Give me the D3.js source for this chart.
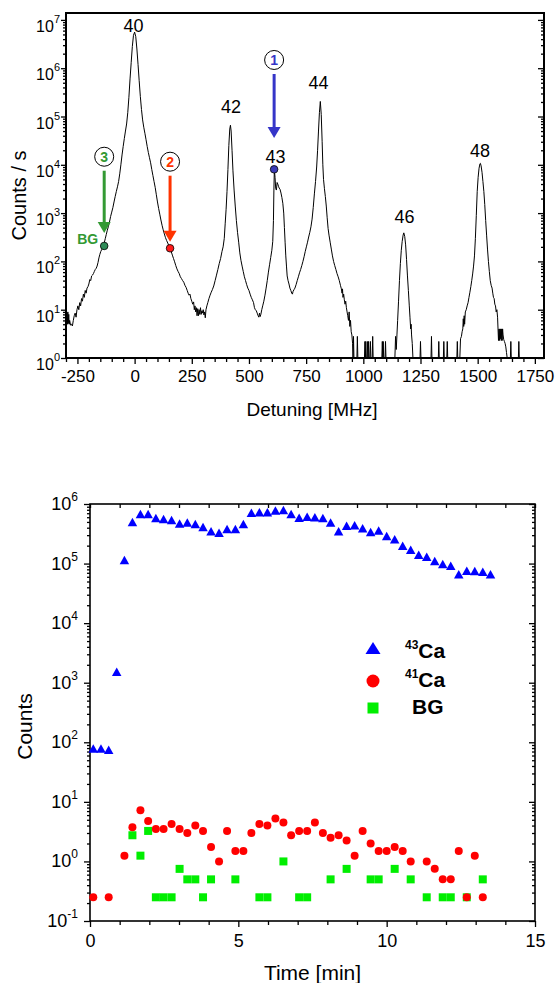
<!DOCTYPE html>
<html><head><meta charset="utf-8">
<script src="https://cdn.jsdelivr.net/npm/d3@7"></script>
<style>
body{margin:0;background:#fff}
text{font-family:Arial,"Liberation Sans",Helvetica,sans-serif;fill:#000}
</style>
</head><body>
<svg id="c" width="558" height="983"></svg>
<script>
// ---------- top panel data: spectrum [detuning MHz, counts/s] ----------
const spectrum = [[-300,9],[-298,5.5],[-296,8.5],[-294,5],[-292,9],[-290,5.2],[-288,8],[-286,5],[-284,6],[-280,4.8],[-276,5],[-272,4.6],[-268,6],[-264,7.5],[-260,8.5],[-256,7],[-252,10],[-248,12],[-244,10],[-240,14],[-236,12],[-232,17],[-228,15],[-224,21],[-220,18],[-216,25],[-212,22],[-208,28],[-204,30],[-200,34],[-196,42],[-192,40],[-188,50],[-184,52],[-180,56],[-176,62],[-172,68],[-168,72],[-164,80],[-160,95],[-156,118],[-152,140],[-148,160],[-144,175],[-140,195],[-136,215],[-132,250],[-128,300],[-124,360],[-120,430],[-115,520],[-110,650],[-105,850],[-100,1050],[-95,1300],[-90,1700],[-85,2200],[-80,2800],[-75,3500],[-70,4500],[-65,6500],[-60,1.0e4],[-55,1.6e4],[-50,2.4e4],[-45,3.5e4],[-40,5e4],[-35,7e4],[-30,1.2e5],[-25,2.5e5],[-20,6e5],[-15,1.3e6],[-10,2.8e6],[-5,4.8e6],[0,5.6e6],[5,4.5e6],[10,2.5e6],[15,1.2e6],[20,5.5e5],[25,2.6e5],[30,1.4e5],[35,8.5e4],[40,6e4],[45,4.5e4],[50,3.3e4],[55,2.4e4],[60,1.8e4],[65,1.4e4],[70,1.1e4],[75,8000],[80,6000],[85,4500],[90,3400],[95,2400],[100,1700],[105,1250],[110,950],[115,720],[120,560],[125,450],[130,370],[135,310],[140,270],[145,240],[150,210],[155,188],[160,160],[165,135],[170,115],[175,98],[180,82],[185,70],[190,62],[195,56],[200,48],[205,44],[210,40],[215,37],[220,32],[225,29],[230,25],[234,22],[238,20],[242,21],[246,17],[250,15],[254,13],[258,14.5],[261,10],[264,12],[267,9],[270,11],[273,7.5],[276,10.5],[279,7.5],[282,10],[285,8],[288,11],[291,8],[294,9.5],[297,8.5],[300,10],[303,7.8],[306,9],[309,6.8],[312,10],[316,12],[320,14],[325,17],[330,20],[335,23],[340,26],[346,31],[352,40],[358,52],[364,68],[370,90],[376,115],[382,160],[387,200],[392,300],[396,600],[400,1200],[404,2800],[408,8000],[412,2.5e4],[416,5.5e4],[419,6.6e4],[422,5e4],[426,2e4],[430,7500],[435,3000],[440,1400],[445,700],[450,400],[455,250],[460,150],[465,105],[470,80],[475,62],[480,48],[485,40],[490,33],[495,28],[500,25],[505,21],[510,18],[515,16],[520,14],[524,11],[528,10],[532,9.5],[536,8.5],[540,7.5],[543,7],[546,8.5],[549,7.2],[552,8],[556,10],[560,12],[565,15],[570,20],[575,28],[580,40],[585,60],[590,85],[595,120],[600,170],[604,260],[607,700],[609,3000],[611,8070],[614,5500],[617,3200],[620,3000],[623,4300],[626,4000],[629,3600],[632,3300],[636,3100],[640,2600],[644,2100],[648,1600],[652,1000],[655,500],[658,250],[661,130],[664,80],[667,50],[671,40],[675,34],[679,28],[683,25],[687,22],[690,21],[693,24],[697,26],[701,28],[706,33],[711,40],[716,48],[721,58],[726,68],[731,82],[736,100],[741,125],[746,160],[751,200],[756,250],[761,320],[766,400],[771,520],[776,750],[781,1300],[786,2500],[791,4500],[796,9000],[800,2e4],[804,5e4],[808,1.2e5],[812,2.05e5],[816,1.1e5],[820,3e4],[823,1e4],[826,5000],[830,3200],[834,2200],[838,1400],[842,800],[846,480],[850,350],[855,250],[860,180],[865,130],[870,100],[875,82],[880,68],[885,56],[890,48],[895,40],[900,32],[904,27],[907,22],[909,27],[911,18],[914,21],[917,16],[920,13],[923,15],[926,11],[929,9],[932,7.5],[935,6],[938,9],[941,4.5],[944,6],[947,3.5],[950,3],[953,2],[955,1],[957,2.8],[959,1],[972,1],[974,2.8],[976,1],[1005,1],[1007,2.2],[1009,1],[1011,2.2],[1013,1],[1017,1],[1019,2.2],[1021,1],[1023,2.2],[1025,1],[1029,1],[1031,2.2],[1033,1],[1039,1],[1041,2.8],[1043,1],[1081,1],[1083,2.2],[1085,1],[1087,2.2],[1089,1],[1095,1],[1097,2.2],[1099,1],[1138,1],[1141,2.8],[1144,1.5],[1147,3],[1150,6],[1154,15],[1158,40],[1162,90],[1166,170],[1170,260],[1174,350],[1177,390],[1181,330],[1185,220],[1189,110],[1193,50],[1197,25],[1201,12],[1204,7],[1207,4],[1209,5],[1211,3],[1214,2],[1217,1],[1248,1],[1250,2.2],[1252,1],[1296,1],[1298,2.8],[1300,1],[1328,1],[1330,2.2],[1332,1],[1350,1],[1352,2.2],[1354,1],[1365,1],[1367,2.2],[1369,1],[1409,1],[1411,2.2],[1413,1],[1422,1],[1425,2.5],[1429,2.8],[1432,3.5],[1435,4],[1437,6.5],[1439,4.5],[1441,7.5],[1443,5],[1446,9],[1450,10],[1454,12],[1458,14],[1462,18],[1466,23],[1470,30],[1474,40],[1478,55],[1482,80],[1486,130],[1490,300],[1494,900],[1498,2800],[1502,5500],[1506,8500],[1510,1.05e4],[1512,1.07e4],[1515,9500],[1519,7000],[1523,4500],[1527,2800],[1531,1500],[1535,700],[1539,350],[1543,180],[1547,100],[1551,62],[1555,40],[1559,32],[1563,28],[1566,22],[1569,18],[1572,17],[1575,13],[1578,12],[1581,9],[1584,10],[1587,7],[1589,4],[1591,2.3],[1593,4],[1595,2.3],[1597,4],[1599,2.5],[1601,4],[1603,2.3],[1605,4],[1607,2.3],[1609,4],[1611,3],[1614,2.4],[1617,2.2],[1620,2],[1623,1.7],[1626,1.3],[1629,1],[1643,1],[1645,2.2],[1647,1],[1678,1],[1680,2.2],[1682,1]];

const peakNames = ["40","42","43","44","46","48"];
const peakNameX = [-5, 421, 616, 804, 1180, 1510];        // MHz
const peakNameCounts = [5.6e6, 1.2e5, 1.1e4, 3.7e5, 620, 1.45e4];

const markerNums = ["1","2","3"];
const markerX = [610, 155, -133];                          // MHz
const markerCounts = [8070, 187, 209];
const markerCircleCounts = [1.48e6, 1.16e4, 1.47e4];
const markerTipCounts = [3.6e4, 256, 388];
const markerColors = ["#3535c8", "#ff3300", "#339933"];
const markerDotColors = ["#3a3ab4", "#ff1a1a", "#2e8b57"];

const xTicksTop = [-250,0,250,500,750,1000,1250,1500,1750];

// ---------- bottom panel data ----------
const timeMin = [0.11,0.37,0.63,0.9,1.16,1.43,1.7,1.96,2.22,2.48,2.75,3.02,3.28,3.55,3.81,4.08,4.35,4.62,4.9,5.17,5.44,5.71,5.98,6.25,6.52,6.78,7.05,7.32,7.58,7.85,8.11,8.38,8.65,8.92,9.19,9.46,9.73,10.0,10.27,10.54,10.81,11.08,11.35,11.62,11.89,12.16,12.43,12.7,12.97,13.24,13.5];
const ca43 = [79,79,75,1530,1.15e5,5.0e5,6.8e5,6.8e5,5.8e5,5.6e5,5.4e5,4.7e5,4.9e5,4.6e5,4.1e5,3.5e5,3.3e5,3.8e5,3.8e5,4.6e5,7.1e5,7.3e5,7.3e5,7.8e5,7.9e5,6.8e5,5.9e5,6.1e5,6.0e5,5.8e5,4.9e5,3.5e5,4.3e5,4.4e5,3.9e5,3.4e5,3.6e5,2.9e5,2.55e5,2.0e5,1.7e5,1.4e5,1.3e5,1.1e5,9.8e4,9.2e4,6.6e4,7.6e4,7.5e4,7.3e4,6.6e4];
const ca41 = [0.25,null,0.25,null,1.25,3.75,7.25,4.75,3.5,3.5,4.25,3.5,3.0,4.0,3.25,1.75,1.0,3.25,1.5,1.5,3.0,4.25,4.0,5.25,4.5,2.75,3.25,3.25,4.5,3.0,2.5,2.75,2.25,1.25,3.25,2.0,1.5,1.5,1.75,1.5,1.0,null,1.0,0.75,0.5,0.5,1.5,0.25,1.25,0.25,null];
const bg = [null,null,null,null,null,2.75,1.25,3.25,0.25,0.25,0.25,0.75,0.5,0.5,0.25,0.5,null,null,0.5,null,null,0.25,0.25,null,1.0,null,0.25,0.25,null,null,0.5,null,0.75,null,null,0.5,0.5,null,0.75,null,0.5,null,0.25,null,0.25,0.25,null,0.25,null,0.5,null];
const legendMass = ["43","41",""];
const legendNames = ["Ca","Ca","BG"];
const xTicksBottom = [0,5,10,15];

// ---------- drawing ----------
const svg = d3.select("#c");
svg.append("rect").attr("width",558).attr("height",983).attr("fill","#fff");

function logTicks(lo, hi){
  const maj=[], min=[];
  for(let e=Math.floor(Math.log10(lo)); e<=Math.ceil(Math.log10(hi)); e++){
    const p = Math.pow(10,e);
    if(p>=lo*0.999 && p<=hi*1.001) maj.push(p);
    for(let m=2;m<=9;m++){ const v=m*p; if(v>=lo && v<=hi) min.push(v); }
  }
  return {maj,min};
}
function styleAxis(g){
  g.select(".domain").remove();
  g.selectAll(".tick line").attr("stroke","#000").attr("stroke-width",1.3);
}
function supLabels(g, y, ticks, xPos, fs, supFs, dyBase, supDy){
  ticks.forEach(v=>{
    const e = Math.round(Math.log10(v));
    const t = g.append("text").attr("x",xPos).attr("y",y(v)+dyBase)
      .attr("text-anchor","end").attr("font-size",fs);
    t.append("tspan").text("10");
    t.append("tspan").attr("font-size",supFs).attr("dy",supDy).text(String(e));
  });
}

// ===== TOP PANEL =====
const T = {l:66, r:544, t:13, b:358};
const xT = d3.scaleLinear().domain([-300,1790]).range([T.l,T.r]);
const yT = d3.scaleLog().domain([1,1.39e7]).range([T.b,T.t]).clamp(true);
const gT = svg.append("g");
const ltT = logTicks(1,1.39e7);

// x axis
const minorXT = d3.range(-300,1791,50).filter(v=>v%250!==0);
gT.append("g").attr("transform",`translate(0,${T.b})`)
  .call(d3.axisBottom(xT).tickValues(minorXT).tickSize(4).tickFormat(""))
  .call(styleAxis);
gT.append("g").attr("transform",`translate(0,${T.b})`)
  .call(d3.axisBottom(xT).tickValues(xTicksTop).tickSize(6).tickPadding(6).tickFormat(d=>d))
  .call(styleAxis)
  .call(g=>g.selectAll("text").attr("font-size",17).attr("font-family","Arial,Liberation Sans,sans-serif").attr("dy","0.72em"));
// y axis left
gT.append("g").attr("transform",`translate(${T.l},0)`)
  .call(d3.axisLeft(yT).tickValues(ltT.min).tickSize(3).tickFormat("")).call(styleAxis);
gT.append("g").attr("transform",`translate(${T.l},0)`)
  .call(d3.axisLeft(yT).tickValues(ltT.maj).tickSize(5).tickFormat("")).call(styleAxis);
// y axis right (inward)
gT.append("g").attr("transform",`translate(${T.r},0)`)
  .call(d3.axisRight(yT).tickValues(ltT.min).tickSize(-3).tickFormat("")).call(styleAxis);
gT.append("g").attr("transform",`translate(${T.r},0)`)
  .call(d3.axisRight(yT).tickValues(ltT.maj).tickSize(-6).tickFormat("")).call(styleAxis);
supLabels(gT, yT, ltT.maj, T.l-6, 16, 11, 12, -9);

// spectrum line
const clipT = svg.append("clipPath").attr("id","clipT").append("rect")
  .attr("x",T.l).attr("y",T.t).attr("width",T.r-T.l).attr("height",T.b-T.t+1);
gT.append("path").datum(spectrum)
  .attr("clip-path","url(#clipT)")
  .attr("fill","none").attr("stroke","#000").attr("stroke-width",1)
  .attr("stroke-linejoin","round")
  .attr("d", d3.line().x(d=>xT(d[0])).y(d=>yT(Math.max(1,d[1]))));

// frame
gT.append("rect").attr("x",T.l).attr("y",T.t).attr("width",T.r-T.l).attr("height",T.b-T.t)
  .attr("fill","none").attr("stroke","#000").attr("stroke-width",2);

// peak labels
peakNames.forEach((n,i)=>{
  gT.append("text").attr("x",xT(peakNameX[i])).attr("y",yT(peakNameCounts[i]))
    .attr("text-anchor","middle").attr("font-size",18).text(n);
});

// markers with arrows
markerNums.forEach((n,i)=>{
  const cx = xT(markerX[i]);
  const cy = yT(markerCircleCounts[i]);
  const tip = yT(markerTipCounts[i]);
  const col = markerColors[i];
  gT.append("circle").attr("cx",cx).attr("cy",cy).attr("r",9.5)
    .attr("fill","#fff").attr("stroke","#000").attr("stroke-width",1);
  gT.append("text").attr("x",cx).attr("y",cy+5).attr("text-anchor","middle")
    .attr("font-size",14).attr("font-weight","bold").style("fill",col).text(n);
  const headLen = 11, headW = 13;
  gT.append("line").attr("x1",cx).attr("x2",cx).attr("y1",cy+14).attr("y2",tip-headLen+1)
    .attr("stroke",col).attr("stroke-width",3);
  gT.append("path").attr("d",`M${cx-headW/2},${tip-headLen}L${cx+headW/2},${tip-headLen}L${cx},${tip}Z`)
    .attr("fill",col);
  gT.append("circle").attr("cx",xT(markerX[i])).attr("cy",yT(markerCounts[i])).attr("r",3.8)
    .attr("fill",markerDotColors[i]).attr("stroke","#000").attr("stroke-width",0.8);
});
gT.append("text").attr("x",xT(markerX[2])-6).attr("y",yT(markerCounts[2])-2)
  .attr("text-anchor","end").attr("font-size",14).attr("font-weight","bold")
  .style("fill",markerColors[2]).text("BG");

// axis titles
gT.append("text").attr("x",(T.l+T.r)/2+7).attr("y",416).attr("text-anchor","middle")
  .attr("font-size",19).text("Detuning [MHz]");
gT.append("text").attr("transform",`translate(26,${(T.t+T.b)/2+10}) rotate(-90)`)
  .attr("text-anchor","middle").attr("font-size",20).text("Counts / s");

// ===== BOTTOM PANEL =====
const B = {l:90, r:535, t:504, b:921};
const xB = d3.scaleLinear().domain([0,15]).range([B.l,B.r]);
const yB = d3.scaleLog().domain([0.1,1e6]).range([B.b,B.t]);
const gB = svg.append("g");
const ltB = logTicks(0.1,1e6);

const minorXB = d3.range(0,16,1).filter(v=>v%5!==0);
gB.append("g").attr("transform",`translate(0,${B.b})`)
  .call(d3.axisBottom(xB).tickValues(minorXB).tickSize(4).tickFormat("")).call(styleAxis);
gB.append("g").attr("transform",`translate(0,${B.b})`)
  .call(d3.axisBottom(xB).tickValues(xTicksBottom).tickSize(6).tickPadding(7).tickFormat(d=>d))
  .call(styleAxis)
  .call(g=>g.selectAll("text").attr("font-size",18).attr("font-family","Arial,Liberation Sans,sans-serif").attr("dy","0.72em"));
gB.append("g").attr("transform",`translate(0,${B.t})`)
  .call(d3.axisTop(xB).tickValues(d3.range(0,16,1)).tickSize(-4).tickFormat("")).call(styleAxis);
gB.append("g").attr("transform",`translate(${B.l},0)`)
  .call(d3.axisLeft(yB).tickValues(ltB.min).tickSize(3).tickFormat("")).call(styleAxis);
gB.append("g").attr("transform",`translate(${B.l},0)`)
  .call(d3.axisLeft(yB).tickValues(ltB.maj).tickSize(6).tickFormat("")).call(styleAxis);
gB.append("g").attr("transform",`translate(${B.r},0)`)
  .call(d3.axisRight(yB).tickValues(ltB.min).tickSize(-3).tickFormat("")).call(styleAxis);
gB.append("g").attr("transform",`translate(${B.r},0)`)
  .call(d3.axisRight(yB).tickValues(ltB.maj).tickSize(-6).tickFormat("")).call(styleAxis);
supLabels(gB, yB, ltB.maj, B.l-12, 18, 12, 6, -9);

gB.append("rect").attr("x",B.l).attr("y",B.t).attr("width",B.r-B.l).attr("height",B.b-B.t)
  .attr("fill","none").attr("stroke","#000").attr("stroke-width",1.6);

const tri = (cx,cy,w,h)=>`M${cx-w/2},${cy+h/2}L${cx+w/2},${cy+h/2}L${cx},${cy-h/2}Z`;
// BG squares
gB.append("g").selectAll("rect").data(timeMin.map((t,i)=>[t,bg[i]]).filter(d=>d[1]!=null))
  .join("rect").attr("x",d=>xB(d[0])-4).attr("y",d=>yB(d[1])-4).attr("width",8).attr("height",8)
  .attr("fill","#00ee00");
// 41Ca circles
gB.append("g").selectAll("circle").data(timeMin.map((t,i)=>[t,ca41[i]]).filter(d=>d[1]!=null))
  .join("circle").attr("cx",d=>xB(d[0])).attr("cy",d=>yB(d[1])).attr("r",4)
  .attr("fill","#ff0000");
// 43Ca triangles
gB.append("g").selectAll("path").data(timeMin.map((t,i)=>[t,ca43[i]]).filter(d=>d[1]!=null))
  .join("path").attr("d",d=>tri(xB(d[0]),yB(d[1]),9.5,8.5)).attr("fill","#0000ff");

// legend
const legY = [648, 681, 708];
const legX = 373;
svg.append("path").attr("d",tri(legX,legY[0],15,12)).attr("fill","#0000ff");
svg.append("circle").attr("cx",legX).attr("cy",legY[1]).attr("r",6.5).attr("fill","#ff0000");
svg.append("rect").attr("x",legX-5.5).attr("y",legY[2]-5.5).attr("width",11).attr("height",11).attr("fill","#00ee00");
legendNames.forEach((n,i)=>{
  const base = [658,687,714][i];
  const t = svg.append("text").attr("y",base).attr("font-weight","bold");
  if(legendMass[i]){
    t.attr("x",405);
    t.append("tspan").attr("font-size",12).attr("dy",-9).text(legendMass[i]);
    t.append("tspan").attr("font-size",21).attr("dy",9).text(n);
  } else {
    t.attr("x",412).attr("font-size",21).text(n);
  }
});

gB.append("text").attr("x",(B.l+B.r)/2).attr("y",980).attr("text-anchor","middle")
  .attr("font-size",21).text("Time [min]");
gB.append("text").attr("transform",`translate(32,${(B.t+B.b)/2+14}) rotate(-90)`)
  .attr("text-anchor","middle").attr("font-size",21).text("Counts");
</script>
</body></html>
